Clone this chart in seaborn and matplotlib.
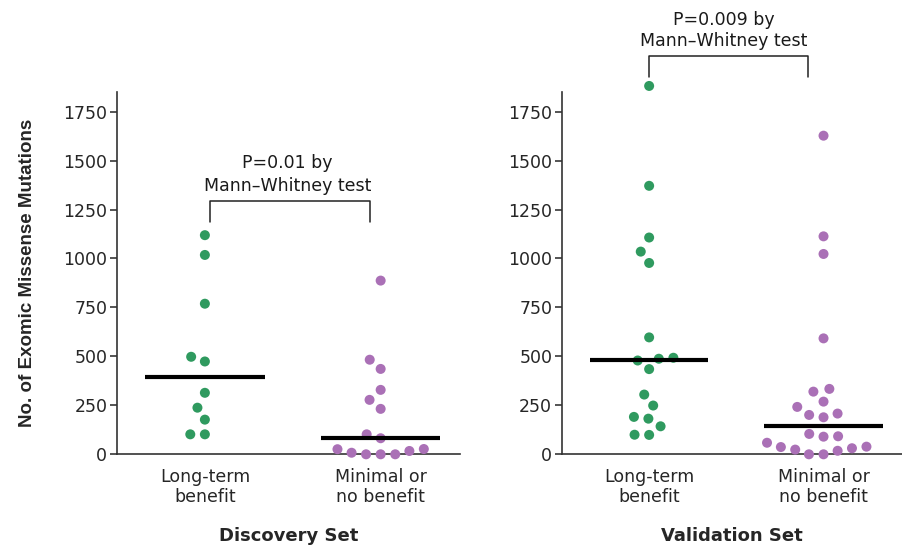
import numpy as np
import pandas as pd
import matplotlib
matplotlib.use("Agg")
import matplotlib.pyplot as plt
import seaborn as sns

# values (mutation counts)
groups = ["Long-term\nbenefit", "Minimal or\nno benefit"]
disc_benefit = [1119, 1018, 769, 498, 474, 314, 238, 177, 102, 102]
disc_no_benefit = [887, 483, 436, 329, 278, 232, 102, 82, 27, 26, 17, 8, 0, 0, 0]
val_benefit = [1881, 1371, 1107, 1035, 977, 597, 493, 488, 479, 435, 305, 249,
               191, 182, 143, 100, 99]
val_no_benefit = [1627, 1113, 1023, 592, 334, 320, 269, 242, 208, 201, 189,
                  104, 92, 90, 59, 39, 37, 31, 24, 18, 0, 0]
yticks = [0, 250, 500, 750, 1000, 1250, 1500, 1750]
set_titles = ["Discovery Set", "Validation Set"]
p_texts = ["P=0.01 by", "P=0.009 by"]

green = "#2f9a5f"
purple = "#aa70b6"

sns.set_style("ticks")
plt.rcParams["font.family"] = ["DejaVu Sans"]
plt.rcParams["text.color"] = "#1a1a1a"


def make_df(a, b):
    return pd.DataFrame({
        "group": [groups[0]] * len(a) + [groups[1]] * len(b),
        "value": a + b,
    })


fig = plt.figure(figsize=(9.02, 5.5), dpi=100)
ax1 = fig.add_axes([0.1297, 0.174, 0.380, 0.6587])
ax2 = fig.add_axes([0.623, 0.174, 0.377, 0.6587])

panels = [
    (ax1, make_df(disc_benefit, disc_no_benefit), 0.03, 0.94, 0.47, 1296, 1188, 1489, 1369),
    (ax2, make_df(val_benefit, val_no_benefit), 0.0, 0.91, 0.43, 2034, 1929, 2219, 2111),
]

for i, (ax, df, bx0, bx1, tx, btop, bbot, t1, t2) in enumerate(panels):
    # invisible edge widens the swarm spacing a bit
    sns.swarmplot(data=df, x="group", y="value", hue="group", order=groups,
                  palette=[green, purple], size=7.2, ax=ax, legend=False,
                  clip_on=False, zorder=4, linewidth=2.8, edgecolor="none")
    # median bars
    for j, g in enumerate(groups):
        med = np.median(df.loc[df["group"] == g, "value"])
        ax.plot([j - 0.34, j + 0.34], [med, med], color="black", lw=3,
                solid_capstyle="butt", zorder=5, clip_on=False)
    # bracket with p value
    ax.plot([bx0, bx0, bx1, bx1], [bbot, btop, btop, bbot], color="#222222",
            lw=1.1, clip_on=False)
    ax.text(tx, t1, p_texts[i], ha="center", va="center", fontsize=12.5)
    ax.text(tx, t2, "Mann\u2013Whitney test", ha="center", va="center", fontsize=12.5)

    ax.set_xlim(-0.5, 1.45)
    ax.set_ylim(0, 1850)
    ax.set_yticks(yticks)
    ax.tick_params(axis="y", length=5, width=1.1, labelsize=12.5, pad=2)
    ax.tick_params(axis="x", length=0, labelsize=12.5, pad=10)
    for lab in ax.get_xticklabels():
        lab.set_linespacing(1.15)
    ax.set_xlabel(set_titles[i], fontsize=13, fontweight="bold", labelpad=15)
    ax.set_ylabel("")
    sns.despine(ax=ax)
    for s in ["left", "bottom"]:
        ax.spines[s].set_linewidth(1.2)
        ax.spines[s].set_color("#333333")

ax1.set_ylabel("No. of Exomic Missense Mutations", fontsize=13.5,
               fontweight="bold", family=["Liberation Sans", "DejaVu Sans"])
ax1.yaxis.set_label_coords(-0.235, 0.5)

plt.savefig("out.png", dpi=100)
